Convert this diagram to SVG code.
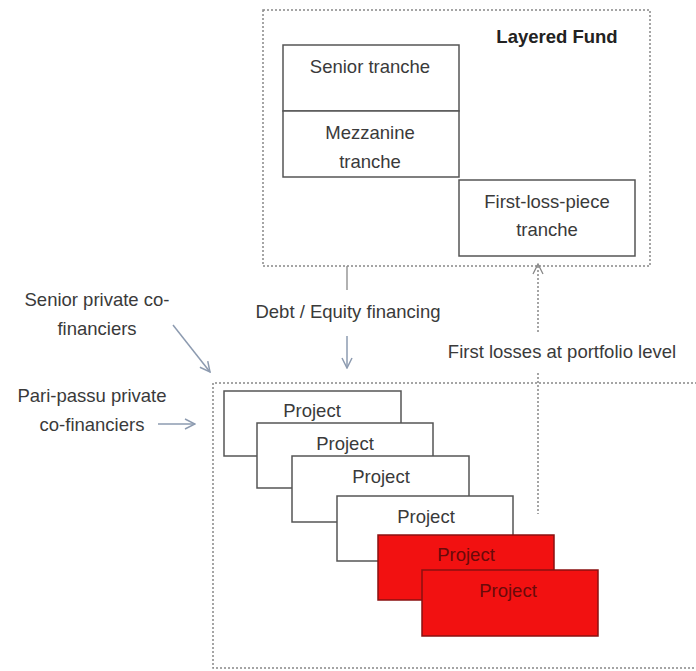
<svg xmlns="http://www.w3.org/2000/svg" width="696" height="671" viewBox="0 0 696 671">
  <defs>
    <style>
      .t{font-family:"Liberation Sans",Arial,sans-serif;font-size:18.5px;fill:#3a3a3a;text-anchor:middle}
      .b{font-weight:bold;fill:#222}
      .box{fill:#fff;stroke:#555;stroke-width:1.5}
      .red{fill:#f21111;stroke:#8a1010;stroke-width:1.5}
      .rt{fill:#6a0a0a}
      .dash{fill:none;stroke:#888;stroke-width:1.5;stroke-dasharray:2 2}
      .ar{fill:none;stroke:#8d9bb0;stroke-width:1.5}
      .gr{fill:none;stroke:#888;stroke-width:1.3}
    </style>
    <marker id="ah" viewBox="0 0 12 12" refX="11" refY="6" markerWidth="12" markerHeight="12" markerUnits="userSpaceOnUse" orient="auto">
      <path d="M1,1 L11,6 L1,11" fill="none" stroke="#8d9bb0" stroke-width="1.5"/>
    </marker>
    <marker id="ag" viewBox="0 0 12 12" refX="11" refY="6" markerWidth="12" markerHeight="12" markerUnits="userSpaceOnUse" orient="auto">
      <path d="M1,1 L11,6 L1,11" fill="none" stroke="#888" stroke-width="1.3"/>
    </marker>
  </defs>

  <g id="fund">
    <rect class="dash" x="263" y="10" width="387" height="256"/>
    <text class="t b" x="557" y="43">Layered Fund</text>
  </g>
  <g id="senior-tranche">
    <rect class="box" x="283" y="45" width="176" height="66"/>
    <text class="t" x="370" y="73">Senior tranche</text>
  </g>
  <g id="mezzanine-tranche">
    <rect class="box" x="283" y="111" width="176" height="66"/>
    <text class="t" x="370" y="139">Mezzanine</text>
    <text class="t" x="370" y="168">tranche</text>
  </g>
  <g id="first-loss-tranche">
    <rect class="box" x="459" y="180" width="176" height="76"/>
    <text class="t" x="547" y="208">First-loss-piece</text>
    <text class="t" x="547" y="236">tranche</text>
  </g>

  <g id="portfolio">
    <path class="dash" d="M697,383 L213,383 L213,668 L697,668"/>
  </g>
  <g id="project-1">
    <rect class="box" x="224" y="391" width="177" height="65"/>
    <text class="t" x="312" y="417">Project</text>
  </g>
  <g id="project-2">
    <rect class="box" x="257" y="423" width="176" height="65"/>
    <text class="t" x="345" y="450">Project</text>
  </g>
  <g id="project-3">
    <rect class="box" x="292" y="456" width="177" height="66"/>
    <text class="t" x="381" y="483">Project</text>
  </g>
  <g id="project-4">
    <rect class="box" x="337" y="496" width="176" height="65"/>
    <text class="t" x="426" y="523">Project</text>
  </g>
  <g id="project-5">
    <rect class="red" x="378" y="535" width="176" height="65"/>
    <text class="t rt" x="466" y="561">Project</text>
  </g>
  <g id="project-6">
    <rect class="red" x="422" y="570" width="176" height="66"/>
    <text class="t rt" x="508" y="597">Project</text>
  </g>

  <g id="labels">
    <text class="t" x="97" y="306">Senior private co-</text>
    <text class="t" x="97" y="335">financiers</text>
    <text class="t" x="92" y="402">Pari-passu private</text>
    <text class="t" x="92" y="431">co-financiers</text>
    <text class="t" x="348" y="318">Debt / Equity financing</text>
    <text class="t" x="562" y="358">First losses at portfolio level</text>
  </g>

  <g id="connectors">
    <line class="gr" x1="347" y1="266" x2="347" y2="290"/>
    <line class="ar" x1="347" y1="336" x2="347" y2="368" marker-end="url(#ah)"/>
    <line class="dash" x1="538" y1="332" x2="538" y2="264" marker-end="url(#ag)"/>
    <line class="dash" x1="538" y1="373" x2="538" y2="514"/>
    <line class="ar" x1="173" y1="325" x2="210" y2="372" marker-end="url(#ah)"/>
    <line class="ar" x1="158" y1="424" x2="195" y2="424" marker-end="url(#ah)"/>
  </g>
</svg>
